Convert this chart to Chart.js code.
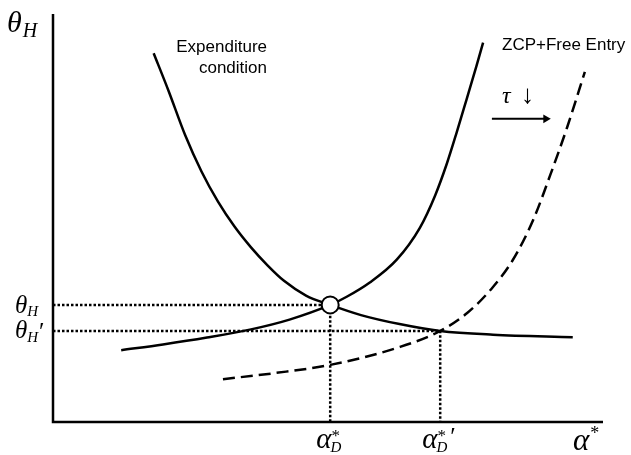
<!DOCTYPE html>
<html>
<head>
<meta charset="utf-8">
<script src="https://cdn.jsdelivr.net/npm/chart.js@4.4.1/dist/chart.umd.min.js"></script>
<style>
html, body { margin: 0; padding: 0; background: #fff; }
#wrap { width: 631px; height: 455px; }
</style>
</head>
<body>
<div id="wrap"><canvas id="myChart"></canvas></div>
<script>
// x = alpha*, y = theta_H (units 0..100 along each axis)
var expX = [18.3, 21, 24, 27, 30, 33, 36, 39, 42, 46, 50.4, 56, 63, 70.4, 80, 94.5];
var expY = [90.4, 81.2, 70.4, 61.4, 54.0, 47.9, 42.8, 38.4, 34.6, 31.0, 28.7, 26.2, 24.0, 22.3, 21.4, 20.8];

var zcpX = [12.4, 20, 28, 36, 43, 50.4, 53.4, 57.6, 62.5, 66.7, 69.5, 71.6, 73.4, 75.2, 77.0, 78.2];
var zcpY = [17.6, 19.0, 20.7, 22.7, 25.1, 28.7, 30.7, 34.2, 39.8, 47.6, 55.6, 63.3, 71.0, 79.1, 87.3, 93.0];

// shifted ZCP curve after tau falls
var zcp2X = [30.9, 40.4, 50.4, 63.1, 70.4, 75.3, 80.0, 83.6, 87.3, 90.4, 93.5, 96.7];
var zcp2Y = [10.5, 12.0, 14.0, 18.4, 22.3, 26.7, 33.1, 39.7, 49.5, 60.5, 72.3, 85.8];

// equilibria
var alphaD = 50.4, thetaH = 28.7;
var alphaD2 = 70.4, thetaH2 = 22.3;

// shift arrow
var arrowX = [79.8, 89.6];
var arrowY = [74.3, 74.3];

function pts(xs, ys) {
    return xs.map(function (x, i) { return { x: x, y: ys[i] }; });
}

var black = '#000';

var labelsPlugin = {
    id: 'labels',
    beforeDatasetsDraw: function (chart) {
        var ctx = chart.ctx, a = chart.chartArea;
        ctx.save();
        ctx.strokeStyle = black;
        ctx.lineWidth = 2.5;
        ctx.beginPath();
        ctx.moveTo(a.left, a.top);
        ctx.lineTo(a.left, a.bottom);
        ctx.lineTo(a.right, a.bottom);
        ctx.stroke();
        ctx.restore();
    },
    afterDraw: function (chart) {
        var ctx = chart.ctx, a = chart.chartArea;
        var xs = chart.scales.x, ys = chart.scales.y;
        var serif = '"Liberation Serif", "DejaVu Serif", serif';
        var sans = '"Liberation Sans", Arial, sans-serif';
        ctx.save();
        ctx.fillStyle = black;
        ctx.textBaseline = 'alphabetic';

        function put(t, x, y, font) {
            ctx.font = font;
            ctx.fillText(t, x, y);
            return x + ctx.measureText(t).width;
        }

        // y axis title
        var e = put('θ', a.left - 46, a.top + 18, 'italic 30px ' + serif);
        put('H', e + 1, a.top + 23, 'italic 20px ' + serif);

        // theta ticks
        var py = ys.getPixelForValue(thetaH);
        e = put('θ', a.left - 38, py + 8, 'italic 25px ' + serif);
        put('H', e, py + 11, 'italic 15px ' + serif);
        py = ys.getPixelForValue(thetaH2);
        e = put('θ', a.left - 38, py + 7, 'italic 25px ' + serif);
        e = put('H', e, py + 11, 'italic 15px ' + serif);
        put('′', e + 1, py + 9, '25px ' + serif);

        // alpha ticks
        var px = xs.getPixelForValue(alphaD);
        e = put('α', px - 14, a.bottom + 26, 'italic 29px ' + serif);
        put('*', e, a.bottom + 19, '17px ' + serif);
        put('D', e - 1, a.bottom + 30, 'italic 15px ' + serif);
        px = xs.getPixelForValue(alphaD2);
        e = put('α', px - 18, a.bottom + 26, 'italic 29px ' + serif);
        put('*', e, a.bottom + 19, '17px ' + serif);
        var e2 = put('D', e - 1, a.bottom + 30, 'italic 15px ' + serif);
        put('′', e2 + 3, a.bottom + 23, '25px ' + serif);

        // x axis title
        e = put('α', a.right - 30, a.bottom + 28, 'italic 31px ' + serif);
        put('*', e + 1, a.bottom + 17, '18px ' + serif);

        // curve labels
        ctx.font = '17px ' + sans;
        ctx.textAlign = 'right';
        ctx.fillText('Expenditure', a.left + 214, a.top + 38);
        ctx.fillText('condition', a.left + 214, a.top + 59);
        ctx.textAlign = 'left';
        ctx.fillText('ZCP+Free Entry', a.left + 449, a.top + 36);

        // tau label above arrow
        var ax = xs.getPixelForValue(arrowX[0]), ay = ys.getPixelForValue(arrowY[0]);
        put('τ', ax + 10, ay - 16, 'italic 24px ' + serif);
        put('↓', ax + 29, ay - 16, '26px ' + serif);
        ctx.restore();
    }
};

var ctx = document.getElementById('myChart').getContext('2d');
var myChart = new Chart(ctx, {
    type: 'scatter',
    data: {
        datasets: [
            {
                // equilibrium marker, drawn on top
                data: [{ x: alphaD, y: thetaH }],
                pointRadius: 8.5,
                pointBackgroundColor: '#fff',
                pointBorderColor: black,
                pointBorderWidth: 2,
                showLine: false
            },
            {
                label: 'Expenditure condition',
                data: pts(expX, expY),
                showLine: true, borderColor: black, borderWidth: 2.5,
                pointRadius: 0, cubicInterpolationMode: 'monotone'
            },
            {
                label: 'ZCP+Free Entry',
                data: pts(zcpX, zcpY),
                showLine: true, borderColor: black, borderWidth: 2.5,
                pointRadius: 0, cubicInterpolationMode: 'monotone'
            },
            {
                label: 'ZCP+Free Entry (tau down)',
                data: pts(zcp2X, zcp2Y),
                showLine: true, borderColor: black, borderWidth: 2.5,
                borderDash: [12, 6], pointRadius: 0, cubicInterpolationMode: 'monotone'
            },
            {
                data: pts(arrowX, arrowY),
                showLine: true, borderColor: black, borderWidth: 2,
                pointRadius: [0, 5], pointStyle: 'triangle', pointRotation: 90,
                pointBackgroundColor: black, pointBorderColor: black, pointBorderWidth: 0
            },
            // dotted guides
            {
                data: [{ x: 0, y: thetaH }, { x: alphaD, y: thetaH }, { x: alphaD, y: 0 }],
                showLine: true, borderColor: black, borderWidth: 2.5, borderDash: [2.5, 2], pointRadius: 0
            },
            {
                data: [{ x: 0, y: thetaH2 }, { x: alphaD2, y: thetaH2 }, { x: alphaD2, y: 0 }],
                showLine: true, borderColor: black, borderWidth: 2.5, borderDash: [2.5, 2], pointRadius: 0
            }
        ]
    },
    options: {
        responsive: true,
        maintainAspectRatio: false,
        animation: false,
        layout: { padding: { left: 53, right: 28, top: 14, bottom: 33 } },
        scales: {
            x: { type: 'linear', min: 0, max: 100, display: false },
            y: { type: 'linear', min: 0, max: 100, display: false }
        },
        plugins: { legend: { display: false }, tooltip: { enabled: false } },
        elements: { line: { borderCapStyle: 'butt' } },
        clip: false
    },
    plugins: [labelsPlugin]
});
</script>
</body>
</html>
